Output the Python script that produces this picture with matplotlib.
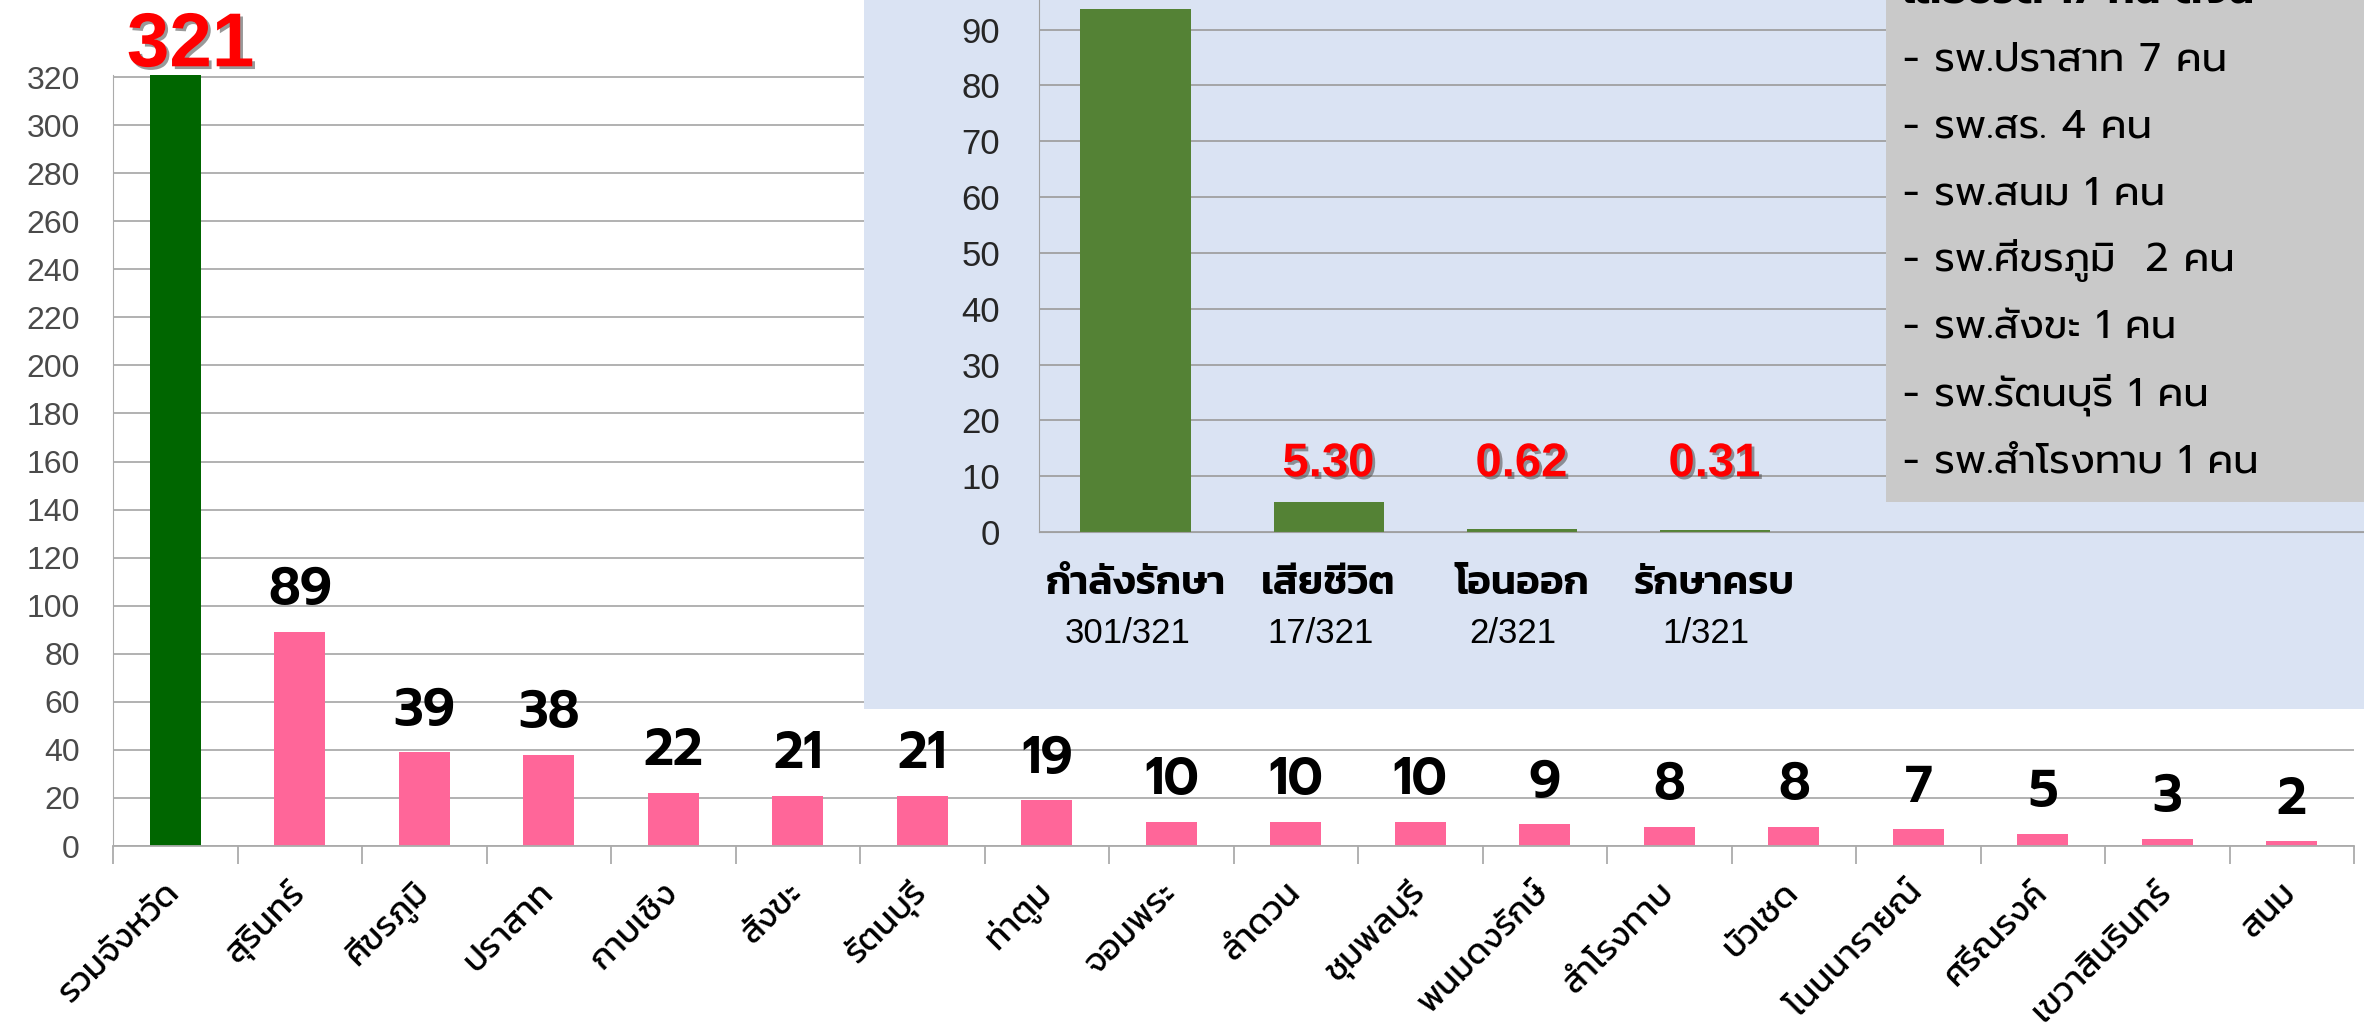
import matplotlib
matplotlib.use("Agg")
from matplotlib import pyplot as plt
from matplotlib.patches import Rectangle
import matplotlib.patheffects as pe

plt.rcParams['font.family'] = ['Liberation Sans', 'Prompt', 'DejaVu Sans']

# main chart data
districts = ['รวมจังหวัด', 'สุรินทร์', 'ศีขรภูมิ', 'ปราสาท', 'กาบเชิง', 'สังขะ', 'รัตนบุรี',
             'ท่าตูม', 'จอมพระ', 'ลำดวน', 'ชุมพลบุรี', 'พนมดงรักษ์', 'สำโรงทาบ', 'บัวเชด',
             'โนนนารายณ์', 'ศรีณรงค์', 'เขวาสินรินทร์', 'สนม']
cases = [321, 89, 39, 38, 22, 21, 21, 19, 10, 10, 10, 9, 8, 8, 7, 5, 3, 2]
main_ticks = list(range(0, 321, 20))

# inset data (percent of 321)
status = ['กำลังรักษา', 'เสียชีวิต', 'โอนออก', 'รักษาครบ']
status_count = ['301/321', '17/321', '2/321', '1/321']
status_pct = [93.77, 5.30, 0.62, 0.31]
status_lbl = ['', '5.30', '0.62', '0.31']
inset_ticks = list(range(0, 91, 10))

# deaths by hospital
box_title = 'เสียชีวิต 17 คน ดังนี้'
box_lines = ['- รพ.ปราสาท 7 คน', '- รพ.สร. 4 คน', '- รพ.สนม 1 คน', '- รพ.ศีขรภูมิ  2 คน',
             '- รพ.สังขะ 1 คน', '- รพ.รัตนบุรี 1 คน', '- รพ.สำโรงทาบ 1 คน']

W, H = 2364, 1031
fig = plt.figure(figsize=(W / 100, H / 100), dpi=100)
shadow = [pe.withSimplePatchShadow(offset=(2, -2), shadow_rgbFace='#555555', alpha=0.6)]

grid_c = '#ABABAB'
ax = fig.add_axes([113 / W, (H - 846) / H, (2354 - 113) / W, (846 - 74.6) / H])
x = list(range(len(districts)))
colors = ['#006600'] + ['#FF6699'] * (len(districts) - 1)
ax.bar(x, cases, width=0.41, color=colors, zorder=2)
ax.set_xlim(-0.5, len(districts) - 0.5)
ax.set_ylim(0, 321)
ax.set_yticks(main_ticks)
ax.grid(axis='y', color=grid_c, lw=1.3, zorder=0)
for s in ['top', 'right']:
    ax.spines[s].set_visible(False)
ax.spines['left'].set_color(grid_c)
ax.spines['bottom'].set_color(grid_c)
ax.spines['bottom'].set_linewidth(1.3)
ax.tick_params(axis='y', length=0, pad=24, labelsize=23, labelcolor='#4a4a4a')
for t in ax.get_yticklabels():
    t.set_family(['Liberation Sans Narrow', 'Liberation Sans'])
ax.set_xticks(x)
ax.set_xticklabels(districts, rotation=45, ha='right', va='center', rotation_mode='anchor',
                   family=['Kanit', 'DejaVu Sans'], fontsize=25, color='black')
ax.set_xticks([i + 0.5 for i in range(-1, len(districts))], minor=True)
ax.tick_params(axis='x', which='major', length=0, pad=30)
ax.tick_params(axis='x', which='minor', length=13, color=grid_c, width=1.3)

for i, v in enumerate(cases):
    if i == 0:
        ax.annotate(str(v), (i, v), xytext=(11, 6), textcoords='offset points', ha='center',
                    va='baseline', fontsize=55, fontweight='bold', color='#FF0000',
                    family=['Liberation Sans', 'DejaVu Sans'], annotation_clip=False,
                    path_effects=shadow)
    else:
        ax.annotate(str(v), (i, v), xytext=(0, 12), textcoords='offset points', ha='center',
                    va='bottom', fontsize=37, fontweight='semibold', color='black',
                    family=['Prompt', 'DejaVu Sans'])

# light blue panel
panel = Rectangle((864 / W, (H - 709) / H), 1 - 864 / W, 709 / H, transform=fig.transFigure,
                  facecolor='#DAE3F3', edgecolor='none', zorder=1)
fig.add_artist(panel)

ix = fig.add_axes([1039 / W, (H - 532) / H, (W - 1039) / W, 532 / H])
ix.set_zorder(2)
ix.patch.set_alpha(0)
xi = list(range(len(status)))
ix.bar(xi, status_pct, width=0.57, color='#548235', zorder=2)
ix.set_xlim(-0.5, 6.365)
ix.set_ylim(0, 95.3)
ix.set_yticks(inset_ticks)
ix.grid(axis='y', color='#A0A0A0', lw=1.3, zorder=0)
for s in ['top', 'right']:
    ix.spines[s].set_visible(False)
ix.spines['left'].set_color('#A0A0A0')
ix.spines['bottom'].set_color('#A0A0A0')
ix.tick_params(axis='y', length=0, pad=28, labelsize=25, labelcolor='#262626')
ix.set_xticks(xi)
ix.set_xticklabels(status, family=['Kanit', 'DejaVu Sans'], fontweight='semibold', fontsize=29,
                   va='center')
ix.tick_params(axis='x', length=0, pad=38)
for i, c in enumerate(status_count):
    ix.annotate(c, (i, 0), xytext=(-6, -73), textcoords='offset points', ha='center', va='center',
                fontsize=25, color='black', annotation_clip=False,
                family=['Liberation Sans Narrow', 'Liberation Sans'])
for i, lbl in enumerate(status_lbl):
    if lbl:
        ix.text(i, 8.2, lbl, ha='center', va='bottom', fontsize=34, fontweight='bold', color='#FF0000',
                path_effects=shadow)

# grey box with deaths by hospital
box = Rectangle((1886 / W, (H - 502) / H), 1 - 1886 / W, 502 / H, transform=fig.transFigure,
                facecolor='#C9C9C9', edgecolor='none', zorder=3)
fig.add_artist(box)
# title line is cut by the top edge in the source image
fig.text(1903 / W, 1 + 7 / H, box_title, ha='left', va='center', fontsize=29, fontweight='bold',
         family=['Prompt', 'DejaVu Sans'], zorder=4)
for k, line in enumerate(box_lines):
    fig.text(1903 / W, 1 - (60 + 67 * k) / H, line, ha='left', va='center', fontsize=29,
             family=['Prompt', 'DejaVu Sans'], zorder=4)

fig.savefig('out.png', dpi=100)
